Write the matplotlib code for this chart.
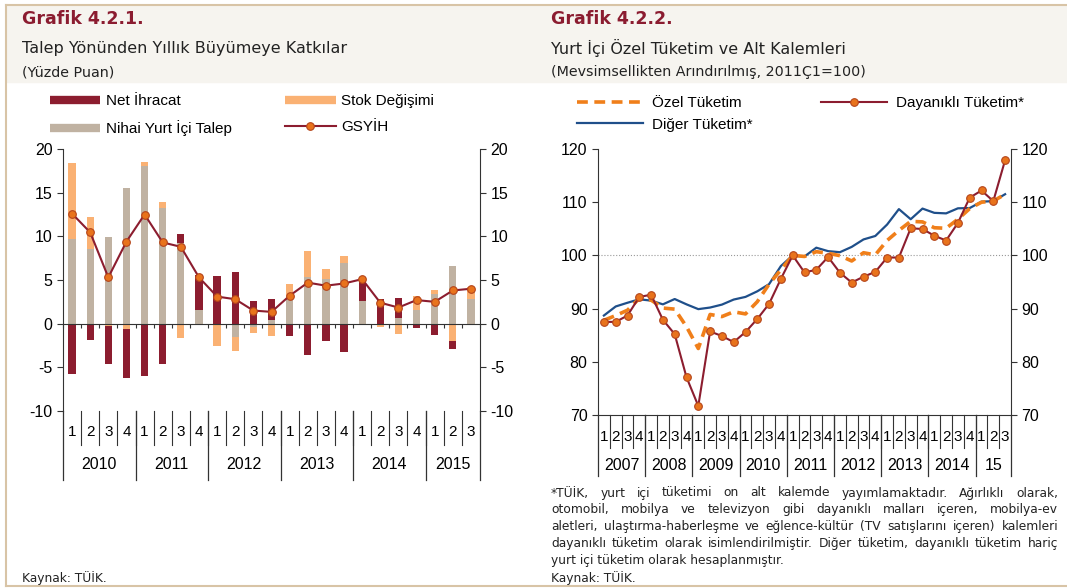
import matplotlib.pyplot as plt
from matplotlib.lines import Line2D
from matplotlib.patches import Rectangle
import numpy as np

plt.rcParams['font.family'] = ['Liberation Sans', 'DejaVu Sans']
plt.rcParams['axes.unicode_minus'] = False

# ---- Grafik 4.2.1 data (2010Q1 - 2015Q3)
left_quarters = ['1', '2', '3', '4'] * 5 + ['1', '2', '3']
left_years = ['2010', '2011', '2012', '2013', '2014', '2015']
left_year_len = [4, 4, 4, 4, 4, 3]
nihai = [9.7, 8.6, 9.9, 15.5, 18.1, 13.2, 9.2, 1.6, 0.0, -1.5, -0.4, 0.4,
         3.2, 5.4, 5.1, 7.0, 2.6, 0.0, 0.6, 1.6, 3.4, 6.6, 2.8]
stok = [8.7, 3.6, -0.3, -0.6, 0.4, 0.7, -1.6, -0.2, -2.5, -1.6, -0.7, -1.4,
        1.3, 2.9, 1.2, 0.8, -0.2, -0.4, -1.2, 1.6, 0.4, -2.0, 1.4]
net_ihracat = [-5.8, -1.9, -4.35, -5.6, -6.0, -4.6, 1.1, 4.0, 5.5, 5.9, 2.6, 2.4,
               -1.45, -3.6, -2.0, -3.25, 2.7, 2.8, 2.35, -0.5, -1.25, -0.95, 0.0]
gsyih = [12.6, 10.45, 5.3, 9.4, 12.5, 9.3, 8.8, 5.3, 3.1, 2.8, 1.5, 1.35,
         3.2, 4.7, 4.35, 4.6, 5.1, 2.4, 1.85, 2.7, 2.5, 3.8, 4.0]

# ---- Grafik 4.2.2 data (2007Q1 - 2015Q3)
right_quarters = ['1', '2', '3', '4'] * 8 + ['1', '2', '3']
right_years = ['2007', '2008', '2009', '2010', '2011', '2012', '2013', '2014', '15']
right_year_len = [4, 4, 4, 4, 4, 4, 4, 4, 3]
ozel = [87.8, 88.7, 89.7, 91.9, 91.6, 90.1, 89.9, 86.6, 82.5, 88.9, 88.5, 89.4,
        89.0, 91.3, 94.6, 97.3, 100.0, 99.8, 100.7, 100.4, 99.95, 98.95, 100.5, 100.1,
        102.8, 104.7, 106.4, 106.3, 105.2, 105.1, 106.8, 108.8, 110.0, 110.2, 111.5]
diger = [88.7, 90.4, 91.1, 91.75, 91.5, 90.8, 91.8, 90.8, 89.9, 90.2, 90.75, 91.7,
         92.2, 93.25, 94.6, 98.0, 100.0, 99.8, 101.45, 100.8, 100.6, 101.6, 103.0, 103.65,
         105.8, 108.7, 106.8, 108.8, 108.0, 107.9, 108.85, 108.9, 110.1, 110.2, 111.5]
dayanikli = [87.5, 87.5, 88.7, 92.2, 92.6, 87.9, 85.2, 77.1, 71.7, 85.7, 84.85, 83.7,
             85.6, 88.05, 90.9, 95.6, 100.0, 96.8, 97.3, 99.7, 96.75, 94.9, 96.0, 96.9,
             99.6, 99.6, 105.1, 104.96, 103.7, 102.8, 106.1, 110.85, 112.2, 110.2, 117.9]

footnote = [
    '*TÜİK, yurt içi tüketimi on alt kalemde yayımlamaktadır. Ağırlıklı olarak,',
    'otomobil, mobilya ve televizyon gibi dayanıklı malları içeren, mobilya-ev',
    'aletleri, ulaştırma-haberleşme ve eğlence-kültür (TV satışlarını içeren) kalemleri',
    'dayanıklı tüketim olarak isimlendirilmiştir. Diğer tüketim, dayanıklı tüketim hariç',
    'yurt içi tüketim olarak hesaplanmıştır.',
]

DARK_RED = '#8c1d2f'
LIGHT_ORANGE = '#fab173'
GREY = '#c0b2a2'
MARKER_ORANGE = '#e8731c'
BLUE = '#1f4f8a'
DASH_ORANGE = '#f07f1a'
BEIGE = '#f6f4ef'
BORDER = '#d8c4a6'
TITLE = '#8b1c30'
AXIS = '#333333'
TEXT = '#222222'
TITLE_FONT = 'DejaVu Sans'

W, H = 1067, 588


def fx(px):
    return px / W


def fy(py):
    return 1 - py / H


def category_axis(ax, quarters, years, year_len, qy, yy, qsep, ysep):
    trans = ax.get_xaxis_transform()
    for i, q in enumerate(quarters):
        ax.text(i, qy, q, transform=trans, ha='center', va='center', fontsize=11)
    for i in range(1, len(quarters)):
        ax.plot([i - 0.5] * 2, [0, qsep], transform=trans, clip_on=False,
                color=AXIS, lw=0.8)
    start = 0
    for year, n in zip(years, year_len):
        ax.text(start + (n - 1) / 2, yy, year, transform=trans, ha='center',
                va='center', fontsize=11.5)
        ax.plot([start - 0.5] * 2, [0, ysep], transform=trans, clip_on=False,
                color=AXIS, lw=0.9)
        start += n
    ax.plot([start - 0.5] * 2, [0, ysep], transform=trans, clip_on=False,
            color=AXIS, lw=0.9)


def justified(fig, lines, x0, x1, y0, dy, **kw):
    renderer = fig.canvas.get_renderer()
    for k, line in enumerate(lines):
        y = y0 - k * dy
        if k == len(lines) - 1:
            fig.text(x0, y, line, va='center', **kw)
            continue
        words = line.split()
        arts = [fig.text(0, y, w, va='center', **kw) for w in words]
        widths = [a.get_window_extent(renderer).width / fig.bbox.width for a in arts]
        gap = (x1 - x0 - sum(widths)) / (len(words) - 1)
        x = x0
        for a, w in zip(arts, widths):
            a.set_x(x)
            x += w + gap


fig = plt.figure(figsize=(W / 100, H / 100), dpi=100)

# frame and title band
fig.add_artist(Rectangle((fx(7), fy(82)), 1 - fx(7), 76 / H, transform=fig.transFigure,
                         color=BEIGE, zorder=0))
for xs, ys in [([fx(6), 1], [fy(5)] * 2), ([fx(6)] * 2, [fy(5), fy(586)]),
               ([fx(6), 1], [fy(586)] * 2)]:
    fig.add_artist(Line2D(xs, ys, transform=fig.transFigure, color=BORDER, lw=1.5))

# titles
for x0, t1, t2, t3 in [(22, 'Grafik 4.2.1.', 'Talep Yönünden Yıllık Büyümeye Katkılar', '(Yüzde Puan)'),
                       (551, 'Grafik 4.2.2.', 'Yurt İçi Özel Tüketim ve Alt Kalemleri',
                        '(Mevsimsellikten Arındırılmış, 2011Ç1=100)')]:
    fig.text(fx(x0), fy(19), t1, fontsize=12.5, fontweight='bold', color=TITLE,
             family=TITLE_FONT, va='center')
    fig.text(fx(x0), fy(48), t2, fontsize=11.5, family=TITLE_FONT, va='center', color=TEXT)
    fig.text(fx(x0), fy(72), t3, fontsize=10.3, family=TITLE_FONT, va='center', color=TEXT)

# ---- left chart
ax1 = fig.add_axes([fx(63), fy(411), 417 / W, 262 / H])
x = np.arange(len(gsyih))
pos_base = np.zeros(len(x))
neg_base = np.zeros(len(x))
bar_handles = {}
for vals, color, label in [(nihai, GREY, 'Nihai Yurt İçi Talep'),
                           (stok, LIGHT_ORANGE, 'Stok Değişimi'),
                           (net_ihracat, DARK_RED, 'Net İhracat')]:
    v = np.array(vals)
    base = np.where(v >= 0, pos_base, neg_base)
    ax1.bar(x, v, 0.4, bottom=base, color=color, zorder=2)
    pos_base += np.clip(v, 0, None)
    neg_base += np.clip(v, None, 0)
    bar_handles[label] = Line2D([], [], color=color, lw=6, solid_capstyle='butt')
gsyih_line, = ax1.plot(x, gsyih, color=DARK_RED, lw=1.5, marker='o', ms=5.5,
                       mfc=MARKER_ORANGE, mec='#b5451b', mew=0.8, zorder=3)

ax1.set_xlim(-0.5, len(x) - 0.5)
ax1.set_ylim(-10, 20)
ax1.set_yticks(range(-10, 21, 5))
ax1.spines['top'].set_visible(False)
ax1.spines['bottom'].set_position(('data', 0))
for s in ['left', 'right', 'bottom']:
    ax1.spines[s].set_color(AXIS)
ax1.set_xticks(np.arange(-0.5, len(x), 1))
ax1.set_xticklabels([])
ax1.tick_params(axis='x', direction='out', length=3, color=AXIS)
ax1.tick_params(axis='y', direction='out', length=4, color=AXIS, labelsize=11.5,
                right=True, labelright=True)
category_axis(ax1, left_quarters, left_years, left_year_len, -0.080, -0.206, -0.13, -0.263)

fig.legend([bar_handles['Net İhracat'], bar_handles['Nihai Yurt İçi Talep'],
            bar_handles['Stok Değişimi'], gsyih_line],
           ['Net İhracat', 'Nihai Yurt İçi Talep', 'Stok Değişimi', 'GSYİH'],
           loc='upper left', bbox_to_anchor=(fx(50), fy(94)), ncol=2, frameon=False,
           fontsize=11, handlelength=3.3, handletextpad=0.35, columnspacing=3.5,
           labelspacing=0.8, borderpad=0, borderaxespad=0)

# ---- right chart
ax2 = fig.add_axes([fx(598), fy(415), 413 / W, 266 / H])
xr = np.arange(len(ozel))
ax2.axhline(100, color='#999999', ls=':', lw=0.8, zorder=1)
diger_line, = ax2.plot(xr, diger, color=BLUE, lw=1.6, zorder=2)
ozel_line, = ax2.plot(xr, ozel, color=DASH_ORANGE, lw=2.6, ls=(0, (3, 1.8)), zorder=3)
day_line, = ax2.plot(xr, dayanikli, color=DARK_RED, lw=1.5, marker='o', ms=5.5,
                     mfc=MARKER_ORANGE, mec='#b5451b', mew=0.8, zorder=4)
ax2.set_xlim(-0.5, len(xr) - 0.5)
ax2.set_ylim(70, 120)
ax2.set_yticks(range(70, 121, 10))
ax2.spines['top'].set_visible(False)
for s in ['left', 'right', 'bottom']:
    ax2.spines[s].set_color(AXIS)
ax2.set_xticks([])
ax2.tick_params(axis='y', direction='out', length=4, color=AXIS, labelsize=11.5,
                right=True, labelright=True)
category_axis(ax2, right_quarters, right_years, right_year_len, -0.083, -0.188, -0.124, -0.23)

fig.legend([ozel_line, diger_line, day_line],
           ['Özel Tüketim', 'Diğer Tüketim*', 'Dayanıklı Tüketim*'],
           loc='upper left', bbox_to_anchor=(fx(577), fy(96)), ncol=2, frameon=False,
           fontsize=11, handlelength=4.3, handletextpad=0.6, columnspacing=4.5,
           labelspacing=0.5, borderpad=0, borderaxespad=0)

# footnote and sources
justified(fig, footnote, fx(551), fx(1058), fy(493), 16.8 / H, fontsize=8.8,
          family=TITLE_FONT, color=TEXT)
fig.text(fx(22), fy(578), 'Kaynak: TÜİK.', fontsize=8.8, family=TITLE_FONT,
         va='center', color=TEXT)
fig.text(fx(551), fy(578), 'Kaynak: TÜİK.', fontsize=8.8, family=TITLE_FONT,
         va='center', color=TEXT)

fig.savefig('out.png', dpi=100)
